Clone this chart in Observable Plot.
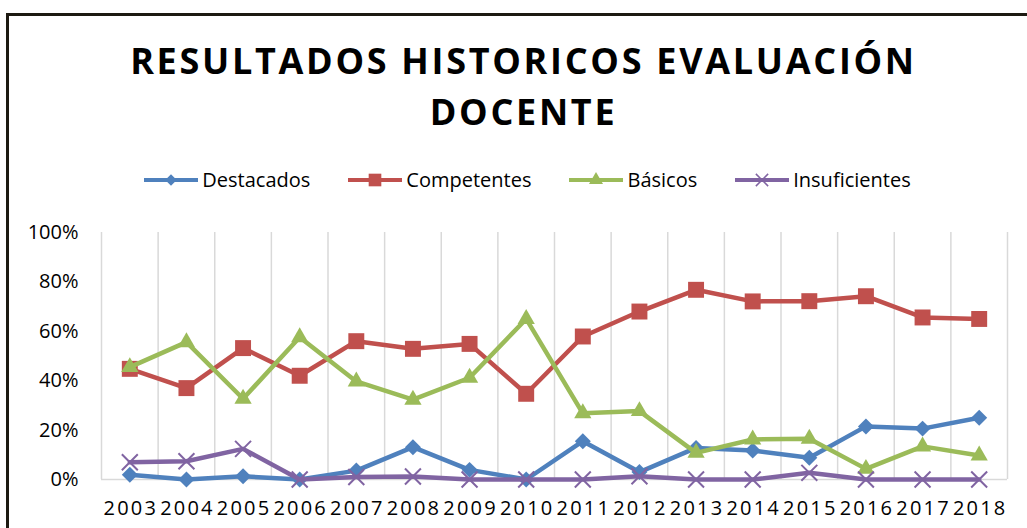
<!DOCTYPE html>
<html><head><meta charset="utf-8">
<script src="https://cdn.jsdelivr.net/npm/d3@7"></script>
<script src="https://cdn.jsdelivr.net/npm/@observablehq/plot@0.6"></script>
<style>
html,body{margin:0;padding:0;background:#fff;}
#wrap{position:relative;width:1027px;height:528px;overflow:hidden;font-family:"Open Sans",sans-serif;color:#000;}
#frame{position:absolute;left:6px;top:13px;width:1100px;height:600px;border-left:3px solid #1d1a12;border-top:3px solid #1d1a12;box-sizing:border-box;}
#title{position:absolute;left:10px;width:1027px;top:35px;text-align:center;font-weight:700;font-size:36px;letter-spacing:2.7px;line-height:51px;}
#legend{position:absolute;top:166px;left:14px;width:1027px;display:flex;justify-content:center;gap:38px;font-size:20px;line-height:28px;}
.item{display:flex;align-items:center;}
.item svg{margin-right:4px;}
#chart{position:absolute;left:0;top:0;}
#chart g[aria-label="x-axis tick label"] text{letter-spacing:2.2px;}
</style>
</head><body>
<div id="wrap">
  <div id="chart"></div>
  <div id="frame"></div>
  <div id="title">RESULTADOS HISTORICOS EVALUACIÓN<br>DOCENTE</div>
  <div id="legend"></div>
</div>
<script>
const years = [2003,2004,2005,2006,2007,2008,2009,2010,2011,2012,2013,2014,2015,2016,2017,2018];
const destacados    = [1.9, 0, 1.3, 0, 3.6, 13.1, 3.9, 0, 15.5, 3.0, 12.8, 11.7, 8.8, 21.5, 20.6, 25.0];
const competentes   = [44.8, 37.0, 53.2, 42.0, 56.0, 52.9, 54.9, 34.7, 57.9, 68.0, 76.8, 72.1, 72.2, 74.2, 65.6, 65.0];
const basicos       = [45.5, 55.6, 32.7, 57.6, 39.7, 32.3, 41.2, 65.0, 26.8, 27.7, 10.8, 16.2, 16.5, 4.3, 13.4, 9.7];
const insuficientes = [7.0, 7.4, 12.4, 0, 1.0, 1.2, 0, 0, 0, 1.3, 0, 0, 2.7, 0, 0, 0];
const seriesNames = ["Destacados","Competentes","Básicos","Insuficientes"];
const colors = ["#4F81BD","#C0504D","#9BBB59","#8064A2"];
const symbols = ["diamond2","square","triangle","times"];
const yTicks = [0,20,40,60,80,100];

const seriesValues = [destacados, competentes, basicos, insuficientes];
const rows = seriesNames.flatMap((name,i)=>years.map((yr,j)=>({name, year: yr, value: seriesValues[i][j]})));
const boundaries = [...years.map(y=>y-0.5), years[years.length-1]+0.5];

const dotR = [7.2, 9.0, 6.4, 7.3];

const seriesMarks = seriesNames.flatMap((name,i)=>{
  const d = rows.filter(r=>r.name===name);
  const dot = symbols[i]==="times"
    ? Plot.dot(d,{x:"year",y:"value",symbol:"times",r:dotR[i],stroke:colors[i],strokeWidth:2,fill:"none"})
    : Plot.dot(d,{x:"year",y:"value",symbol:symbols[i],r:dotR[i],fill:colors[i],stroke:"none"});
  return [
    Plot.line(d,{x:"year",y:"value",stroke:colors[i],strokeWidth:4.5,strokeLinejoin:"round"}),
    dot
  ];
});

const chart = Plot.plot({
  width:1027, height:528,
  marginLeft:101, marginRight:20, marginTop:232, marginBottom:49,
  x:{type:"linear", domain:[years[0]-0.5, years[years.length-1]+0.5]},
  y:{type:"linear", domain:[0,100]},
  style:{fontFamily:"'Open Sans', sans-serif", fontSize:"20px", color:"#000", background:"transparent", overflow:"visible"},
  marks:[
    Plot.ruleX(boundaries,{y1:0,y2:100,stroke:"#d9d9d9",strokeWidth:1.5}),
    Plot.ruleY([0],{stroke:"#d9d9d9",strokeWidth:1.5}),
    Plot.axisY({ticks:yTicks, tickFormat:d=>d+"%", tickSize:0, tickPadding:23, fontSize:20, label:null}),
    Plot.axisX({ticks:years, tickFormat:d=>String(d), tickSize:0, tickPadding:21, fontSize:20, label:null, dx:1}),
    ...seriesMarks
  ]
});
document.getElementById("chart").appendChild(chart);

// legend
const legendSymbols = [
  {type:d3.symbolDiamond2, size:85, fill:true},
  {type:d3.symbolSquare, size:160, fill:true},
  {type:d3.symbolTriangle, size:85, fill:true},
  {type:d3.symbolTimes, size:100, fill:false}
];
const legend = d3.select("#legend");
seriesNames.forEach((name,i)=>{
  const item = legend.append("div").attr("class","item");
  const svg = item.append("svg").attr("width",54).attr("height",20);
  svg.append("line").attr("x1",0).attr("x2",54).attr("y1",10).attr("y2",10)
     .attr("stroke",colors[i]).attr("stroke-width",4);
  const s = legendSymbols[i];
  svg.append("path").attr("transform","translate(27,10)")
     .attr("d", d3.symbol(s.type, s.size)())
     .attr("fill", s.fill ? colors[i] : "none")
     .attr("stroke", s.fill ? "none" : colors[i])
     .attr("stroke-width", 1.5);
  item.append("span").text(name);
});
</script>
</body></html>
